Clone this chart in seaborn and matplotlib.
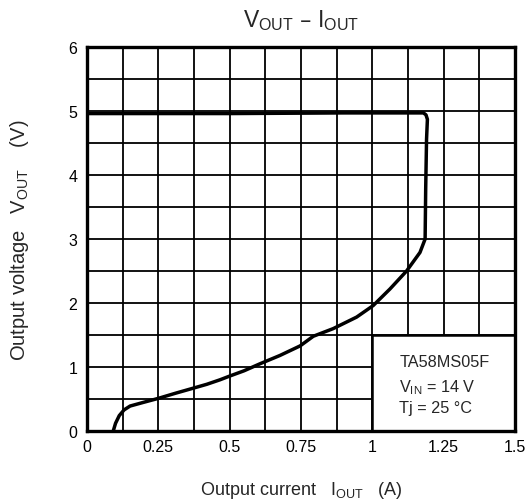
import matplotlib
matplotlib.use('Agg')
import matplotlib.pyplot as plt
import seaborn as sns
import pandas as pd
from matplotlib.patches import Rectangle

# Кривая V_OUT - I_OUT
i_out = [0.092, 0.100, 0.113, 0.13, 0.151, 0.20, 0.25, 0.31, 0.373, 0.42, 0.466, 0.501,
         0.55, 0.606, 0.676, 0.747, 0.793, 0.863, 0.945, 1.003, 1.062, 1.12,
         1.167, 1.185, 1.187, 1.19, 1.193, 1.188, 1.179, 0.9, 0.5, 0.0]
v_out = [0.0, 0.12, 0.24, 0.33, 0.39, 0.45, 0.51, 0.59, 0.67, 0.73, 0.80, 0.86,
         0.94, 1.05, 1.18, 1.33, 1.48, 1.60, 1.78, 1.96, 2.22, 2.50,
         2.79, 3.0, 3.78, 4.56, 4.87, 4.94, 4.97, 4.97, 4.96, 4.96]

x_ticks = [0, 0.25, 0.5, 0.75, 1, 1.25, 1.5]
x_labels = ['0', '0.25', '0.5', '0.75', '1', '1.25', '1.5']
y_ticks = [0, 1, 2, 3, 4, 5, 6]

info_lines = ['TA58MS05F', r'V$_{\mathregular{IN}}$ = 14 V', 'Tj = 25 °C']

sns.set_style('white')
plt.rcParams['font.family'] = ['Liberation Sans', 'DejaVu Sans']

df = pd.DataFrame({'I': i_out, 'V': v_out})

fig = plt.figure(figsize=(5.28, 5.02), dpi=100)
ax = fig.add_axes([87 / 528, 1 - 432 / 502, 428 / 528, 384 / 502])

sns.lineplot(data=df, x='I', y='V', sort=False, estimator=None,
             color='black', linewidth=2.5, ax=ax, zorder=4)

ax.set_xlim(0, 1.5)
ax.set_ylim(0, 6)
ax.set_xticks(x_ticks)
ax.set_xticklabels(x_labels)
ax.set_yticks(y_ticks)
ax.set_xticks([k * 0.125 for k in range(13)], minor=True)
ax.set_yticks([k * 0.5 for k in range(13)], minor=True)
ax.tick_params(which='both', length=0, labelsize=11.5, colors='black')
ax.tick_params(axis='x', pad=6)
ax.tick_params(axis='y', pad=7)
ax.grid(True, which='both', color='black', linewidth=1.3)
ax.set_axisbelow(True)
for s in ax.spines.values():
    s.set_color('black')
    s.set_linewidth(2.4)
    s.set_zorder(6)

# рамка с условиями
ax.add_patch(Rectangle((1.0, 0), 0.5, 1.5, facecolor='white', edgecolor='black',
                       linewidth=1.8, zorder=3))
for yy, t in zip([1.08, 0.70, 0.37], info_lines):
    ax.text(1.095, yy, t, fontsize=11.7, va='center', ha='left', zorder=5)

ax.set_xlabel(r'Output current   I$_{\mathregular{OUT}}$   (A)', fontsize=13, labelpad=18)
ax.set_ylabel(r'Output voltage   V$_{\mathregular{OUT}}$    (V)', fontsize=14.5, labelpad=27)
ax.set_title(r'V$_{\mathregular{OUT}}$ – I$_{\mathregular{OUT}}$', fontsize=16.5, pad=15)

plt.savefig('out.png', dpi=100)
